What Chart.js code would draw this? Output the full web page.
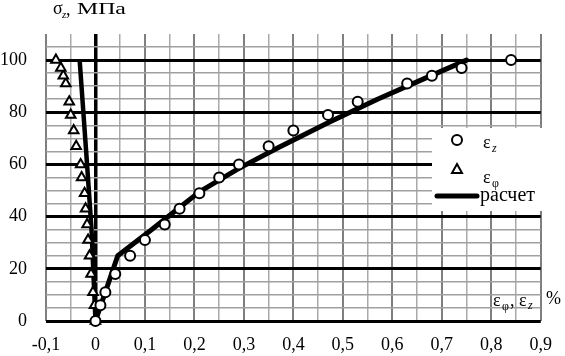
<!DOCTYPE html>
<html>
<head>
<meta charset="utf-8">
<script src="https://cdn.jsdelivr.net/npm/chart.js@4/dist/chart.umd.min.js"></script>
<style>
  html, body { margin: 0; padding: 0; background: #fff; }
  #wrap { width: 565px; height: 356px; position: relative; }
</style>
</head>
<body>
<div id="wrap"><canvas id="c" width="565" height="356"></canvas></div>
<script>
// ---- data ----
const stressLevels = [0, 6, 11, 18, 25, 31, 37, 43, 49, 55, 60, 67, 73, 79, 84, 91, 94, 97, 100];
const epsZ   = [0, 0.01, 0.02, 0.04, 0.07, 0.10, 0.14, 0.17, 0.21, 0.25, 0.29, 0.35, 0.40, 0.47, 0.53, 0.63, 0.68, 0.74, 0.84];
const epsPhi = [0, -0.002, -0.005, -0.009, -0.012, -0.015, -0.017, -0.02, -0.022, -0.028, -0.03, -0.039, -0.044, -0.05, -0.053, -0.06, -0.065, -0.07, -0.08];
const calcZX   = [0, 0.045, 0.11, 0.17, 0.21, 0.29, 0.37, 0.47, 0.57, 0.66, 0.75];
const calcZY   = [0, 25, 34.5, 43.5, 49.5, 58.5, 66.5, 76, 85, 92.5, 100];
const calcPhiX = [0, -0.008, -0.017, -0.032];
const calcPhiY = [0, 35, 60, 100];
const xLabelTicks = [-0.1, 0, 0.1, 0.2, 0.3, 0.4, 0.5, 0.6, 0.7, 0.8, 0.9];
const yLabelTicks = [0, 20, 40, 60, 80, 100];
const legendLabels = ['ε', 'ε', 'расчет'];

const pts = (xs, ys) => xs.map((x, i) => ({ x: x, y: ys[i] }));
const near = (a, b) => Math.abs(a - b) < 1e-6;
const isXLabel = v => xLabelTicks.some(t => near(t, v));
const isYLabel = v => yLabelTicks.some(t => near(t, v));
const fmtX = v => near(v, 0) ? '0' : v.toFixed(1).replace('.', ',');
const SERIF = "'Liberation Serif', 'Times New Roman', serif";

const overlay = {
  id: 'overlay',
  afterDraw(chart) {
    const ctx = chart.ctx;
    ctx.save();
    ctx.fillStyle = '#000';
    ctx.textBaseline = 'alphabetic';
    ctx.textAlign = 'left';
    // y-axis title: σz, МПа
    ctx.font = '18px ' + SERIF;
    ctx.fillText('σ', 53, 14);
    ctx.font = 'italic 11px ' + SERIF;
    ctx.fillText('z', 62, 18);
    ctx.font = '18px ' + SERIF;
    ctx.fillText(',', 66, 15);
    ctx.save();
    ctx.translate(77, 14);
    ctx.scale(1.4, 1);
    ctx.font = '17px ' + SERIF;
    ctx.fillText('МПа', 0, 0);
    ctx.restore();
    // x-axis title: εφ, εz %
    ctx.font = '18px ' + SERIF;
    ctx.fillText('ε', 493, 306);
    ctx.font = '12px ' + SERIF;
    ctx.fillText('φ', 502, 310);
    ctx.font = '18px ' + SERIF;
    ctx.fillText(',', 510, 306);
    ctx.fillText('ε', 519, 306);
    ctx.font = 'italic 12px ' + SERIF;
    ctx.fillText('z', 528, 309);
    ctx.font = '18px ' + SERIF;
    ctx.fillText('%', 546, 304);

    // legend box
    ctx.fillStyle = '#fff';
    ctx.fillRect(432, 128, 114, 83);
    ctx.strokeStyle = '#000';
    ctx.lineWidth = 2;
    // circle
    ctx.beginPath();
    ctx.arc(457, 140, 5, 0, Math.PI * 2);
    ctx.fillStyle = '#fff'; ctx.fill(); ctx.stroke();
    // triangle
    ctx.beginPath();
    ctx.moveTo(457, 164); ctx.lineTo(462, 173); ctx.lineTo(452, 173); ctx.closePath();
    ctx.fill(); ctx.stroke();
    // line
    ctx.lineWidth = 5;
    ctx.lineCap = 'round';
    ctx.beginPath(); ctx.moveTo(437, 196); ctx.lineTo(477, 196); ctx.stroke();
    ctx.fillStyle = '#000';
    ctx.font = '18px ' + SERIF;
    ctx.fillText(legendLabels[0], 483, 148);
    ctx.font = 'italic 12px ' + SERIF;
    ctx.fillText('z', 492, 152);
    ctx.font = '18px ' + SERIF;
    ctx.fillText(legendLabels[1], 483, 183);
    ctx.font = '12px ' + SERIF;
    ctx.fillText('φ', 492, 187);
    ctx.font = '20px ' + SERIF;
    ctx.fillText(legendLabels[2], 480, 201);
    ctx.restore();
  }
};

new Chart(document.getElementById('c'), {
  type: 'scatter',
  data: {
    datasets: [
      { label: 'εz', data: pts(epsZ, stressLevels), order: 0, showLine: false,
        pointStyle: 'circle', pointRadius: 5, pointBackgroundColor: '#fff',
        pointBorderColor: '#000', pointBorderWidth: 2, clip: false },
      { label: 'εφ', data: pts(epsPhi, stressLevels), order: 0, showLine: false,
        pointStyle: 'triangle', pointRadius: 5.5, pointBackgroundColor: '#fff',
        pointBorderColor: '#000', pointBorderWidth: 2, clip: false },
      { label: 'расчет z', data: pts(calcZX, calcZY), order: 1, showLine: true,
        borderColor: '#000', borderWidth: 5, pointRadius: 0, tension: 0, clip: false,
        borderJoinStyle: 'round', borderCapStyle: 'round' },
      { label: 'расчет φ', data: pts(calcPhiX, calcPhiY), order: 1, showLine: true,
        borderColor: '#000', borderWidth: 4.5, pointRadius: 0, tension: 0, clip: false,
        borderJoinStyle: 'round', borderCapStyle: 'butt' }
    ]
  },
  options: {
    responsive: false,
    animation: false,
    events: [],
    layout: { padding: { left: 0, top: 34, right: 19, bottom: 0 } },
    plugins: { legend: { display: false }, tooltip: { enabled: false } },
    scales: {
      x: {
        type: 'linear', min: -0.1, max: 0.9,
        border: { display: false },
        grid: {
          drawTicks: false,
          color: c => near(c.tick.value, 0) ? '#000' : (isXLabel(c.tick.value) ? '#7f7f7f' : '#a9a9a9'),
          lineWidth: c => near(c.tick.value, 0) ? 3.5 : (isXLabel(c.tick.value) ? 2 : 1.5)
        },
        ticks: {
          stepSize: 0.05, autoSkip: false, maxRotation: 0, padding: 13,
          color: '#000', font: { family: SERIF, size: 18 },
          callback: v => isXLabel(v) ? fmtX(v) : ''
        },
        afterFit: s => { s.height = 35; }
      },
      y: {
        type: 'linear', min: 0, max: 110,
        border: { display: false },
        grid: {
          drawTicks: false,
          color: c => near(c.tick.value, 110) ? 'rgba(0,0,0,0)' : (isYLabel(c.tick.value) ? '#000' : '#a0a0a0'),
          lineWidth: c => isYLabel(c.tick.value) ? 3 : 1.5
        },
        ticks: {
          stepSize: 5, autoSkip: false, padding: 19,
          color: '#000', font: { family: SERIF, size: 18 },
          callback: v => isYLabel(v) ? String(v) : ''
        },
        afterFit: s => { s.width = 46; }
      }
    }
  },
  plugins: [overlay]
});
</script>
</body>
</html>
